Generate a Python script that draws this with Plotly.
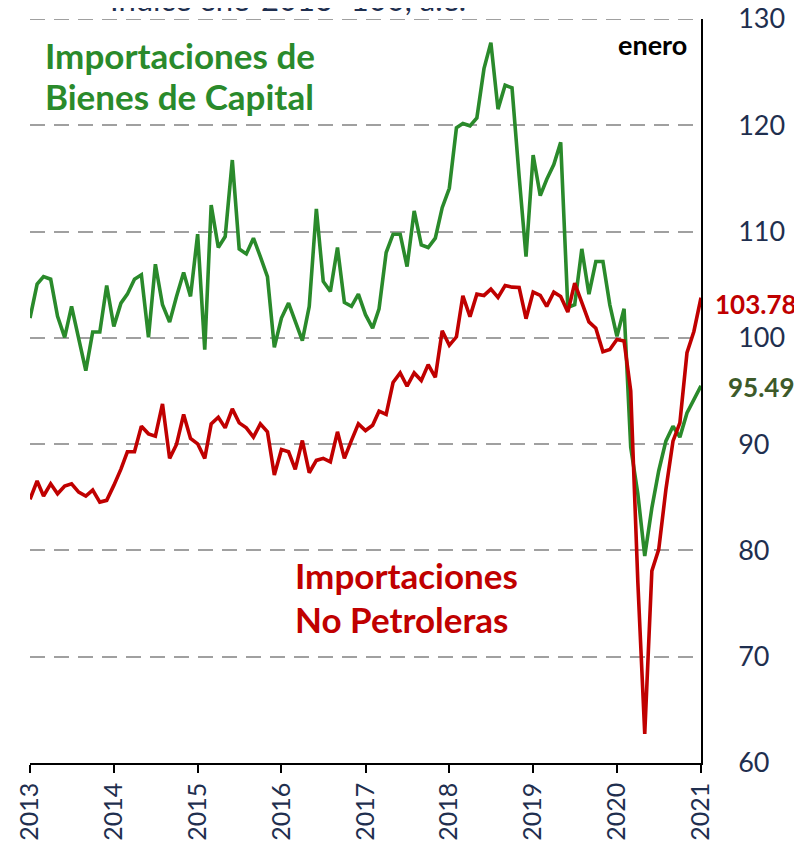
import pandas as pd
import plotly.graph_objects as go

dates = pd.date_range("2013-01-01", "2021-01-01", freq="MS")

no_petroleras = [
    84.81, 86.53, 85.12, 86.27, 85.33, 86.06, 86.27, 85.49, 85.12, 85.68, 84.55, 84.71,
    86.12, 87.65, 89.28, 89.28, 91.69, 90.97, 90.75, 93.79, 88.66, 89.97, 92.79, 90.53,
    90.03, 88.66, 91.91, 92.53, 91.53, 93.32, 92.00, 91.53, 90.66, 91.91, 91.16, 87.10,
    89.50, 89.28, 87.62, 90.34, 87.31, 88.47, 88.66, 88.34, 91.16, 88.66, 90.36, 91.91,
    91.28, 91.78, 93.10, 92.79, 95.80, 96.70, 95.45, 96.70, 95.98, 97.48, 96.29, 100.67,
    99.30, 100.10, 103.95, 102.00, 104.11, 103.99, 104.58, 103.80, 104.93, 104.77, 104.74, 101.80,
    104.30, 103.99, 102.96, 104.30, 103.90, 102.43, 105.15, 103.43, 101.50, 100.90, 98.70, 98.90,
    99.85, 99.70, 95.00, 77.00, 62.74, 78.08, 80.11, 85.70, 90.28, 92.00, 98.60, 100.60,
    103.78,
]

bienes_capital = [
    101.86, 105.05, 105.77, 105.52, 102.02, 100.05, 102.96, 99.98, 96.92, 100.55, 100.55, 104.93,
    101.08, 103.27, 104.11, 105.52, 105.93, 100.05, 106.93, 103.11, 101.48, 103.90, 106.15, 103.90,
    109.75, 98.89, 112.50, 108.50, 109.53, 116.73, 108.37, 107.90, 109.38, 107.65, 105.77, 99.10,
    101.86, 103.27, 101.55, 99.74, 102.96, 112.13, 105.31, 104.37, 108.50, 103.33, 102.96, 104.11,
    102.18, 100.92, 102.74, 108.03, 109.75, 109.75, 106.71, 111.94, 108.75, 108.50, 109.38, 112.25,
    114.07, 119.77, 120.17, 119.95, 120.70, 125.33, 127.78, 121.52, 123.77, 123.52, 115.20, 107.65,
    117.20, 113.38, 114.90, 116.30, 118.39, 102.86, 103.11, 108.37, 104.11, 107.18, 107.18, 103.11,
    100.14, 102.74, 89.70, 85.30, 79.48, 84.00, 87.50, 90.28, 91.69, 90.66, 92.94, 94.20,
    95.49,
]

year_ticks = [f"{y}-01-01" for y in range(2013, 2022)]
year_labels = [str(y) for y in range(2013, 2022)]
y_ticks = [60, 70, 80, 90, 100, 110, 120, 130]
y_min, y_max = 60, 130

GREEN = "#2A8A2B"
RED = "#C00000"
NAVY = "#1F2F4F"
GRID = "#A0A0A0"
FONT = "Lato"

# page has an 8px body margin; figure is sized to fill the rest of the window
OFF = 8
W, H = 802 - OFF, 848 - OFF
PLOT_L, PLOT_R, PLOT_T, PLOT_B = 30, 701, 19, 763  # page pixel coordinates
ML = PLOT_L - OFF
MT = PLOT_T - OFF
MR = 802 - PLOT_R
MB = 848 - PLOT_B
PW, PH = PLOT_R - PLOT_L, PLOT_B - PLOT_T


def px(x):
    return (x - PLOT_L) / PW


def py(y):
    return (PLOT_B - y) / PH


fig = go.Figure()
fig.add_trace(go.Scatter(x=dates, y=bienes_capital, mode="lines",
                         line=dict(color=GREEN, width=3.6), showlegend=False))
fig.add_trace(go.Scatter(x=dates, y=no_petroleras, mode="lines",
                         line=dict(color=RED, width=3.6), showlegend=False))

# top gridline (plotly omits the gridline lying on the plot edge)
fig.add_shape(type="line", xref="paper", x0=0, x1=1, yref="y", y0=y_max, y1=y_max,
              line=dict(color=GRID, width=2, dash="15px,9px"), layer="below")

annots = [
    dict(text="Importaciones de", x=px(43), y=py(55), xanchor="left", yanchor="middle",
         font=dict(family=FONT, size=35, color=GREEN, weight="bold")),
    dict(text="Bienes de Capital", x=px(43), y=py(96), xanchor="left", yanchor="middle",
         font=dict(family=FONT, size=35, color=GREEN, weight="bold")),
    dict(text="Importaciones", x=px(293), y=py(575), xanchor="left", yanchor="middle",
         font=dict(family=FONT, size=35, color=RED, weight="bold")),
    dict(text="No Petroleras", x=px(293), y=py(619), xanchor="left", yanchor="middle",
         font=dict(family=FONT, size=35, color=RED, weight="bold")),
    dict(text="enero", x=px(652), y=py(45), xanchor="center", yanchor="middle",
         font=dict(family=FONT, size=27, color="black", weight="bold")),
    dict(text="103.78", x=px(756), y=py(304), xanchor="center", yanchor="middle",
         font=dict(family=FONT, size=26, color=RED, weight="bold")),
    dict(text="95.49", x=px(761), y=py(387), xanchor="center", yanchor="middle",
         font=dict(family=FONT, size=26, color="#3D5A2A", weight="bold")),
    dict(text="Índice ene-2016=100, a.e.", x=px(288), y=py(-1), xanchor="center", yanchor="middle",
         font=dict(family=FONT, size=31, color=NAVY)),
]
for a in annots:
    a.update(xref="paper", yref="paper", showarrow=False)

fig.update_layout(
    width=W, height=H,
    margin=dict(l=ML, r=MR, t=MT, b=MB, autoexpand=False),
    paper_bgcolor="white", plot_bgcolor="white",
    annotations=annots,
    xaxis=dict(
        type="date", range=["2013-01-01", "2021-01-01"],
        tickvals=year_ticks, ticktext=year_labels, tickangle=-90,
        ticks="outside", ticklen=8, tickwidth=1.5, tickcolor="black",
        showline=True, linecolor="black", linewidth=1.5,
        showgrid=False, zeroline=False, automargin=False,
        ticklabeloverflow="allow",
        tickfont=dict(family=FONT, size=25, color=NAVY),
    ),
    yaxis=dict(
        side="right", range=[y_min, y_max], tickvals=y_ticks,
        ticks="", showline=True, linecolor="black", linewidth=1.5,
        showgrid=True, gridcolor=GRID, gridwidth=2, griddash="15px,9px",
        zeroline=False, ticklabelstandoff=30, automargin=False,
        ticklabeloverflow="allow",
        tickfont=dict(family=FONT, size=27, color=NAVY),
    ),
)

fig.write_html("out.html")
